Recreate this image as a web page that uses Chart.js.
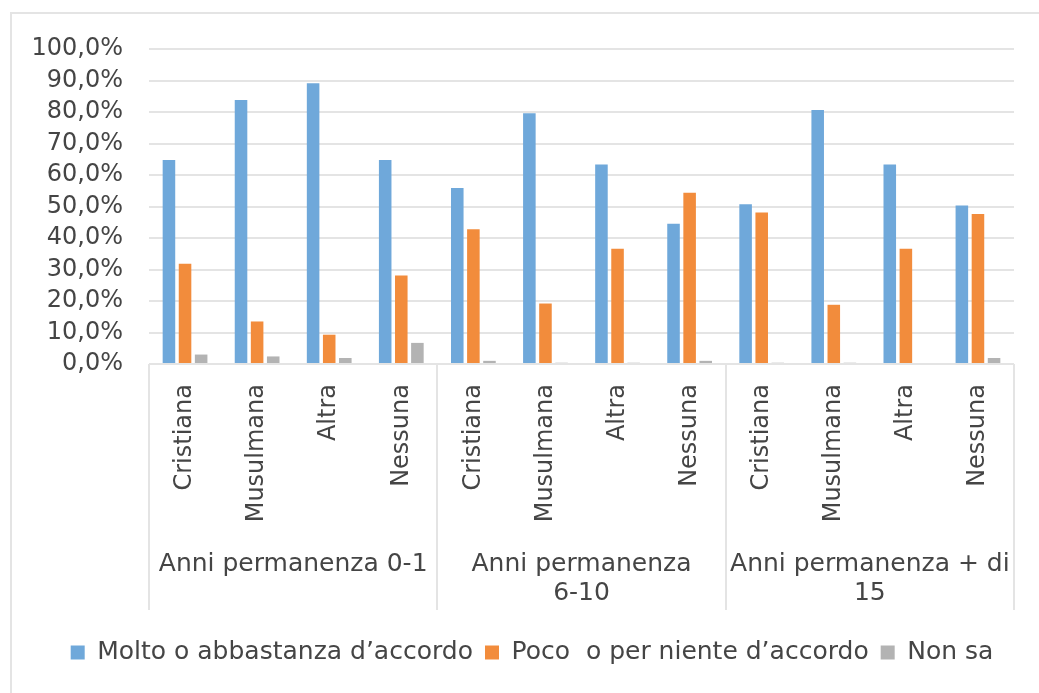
<!DOCTYPE html>
<html>
<head>
<meta charset="utf-8">
<script src="https://cdn.jsdelivr.net/npm/chart.js@4"></script>
<style>
  html, body { margin: 0; padding: 0; background: #ffffff; overflow: hidden; }
  #frame { position: absolute; left: 10px; top: 12px; width: 1100px; height: 800px; border: 2px solid #e4e4e4; box-sizing: border-box; }
  #c { position: absolute; left: 0; top: 0; }
</style>
</head>
<body>
<div id="frame"></div>
<canvas id="c" width="1039" height="693"></canvas>
<script>
const categories = ['Cristiana', 'Musulmana', 'Altra', 'Nessuna',
                    'Cristiana', 'Musulmana', 'Altra', 'Nessuna',
                    'Cristiana', 'Musulmana', 'Altra', 'Nessuna'];
const groups = ['Anni permanenza 0-1', ['Anni permanenza', '6-10'], ['Anni permanenza + di', '15']];
const seriesNames = ['Molto o abbastanza d\u2019accordo', 'Poco  o per niente d\u2019accordo', 'Non sa'];
const molto = [64.8, 83.8, 89.1, 64.8, 55.9, 79.6, 63.3, 44.5, 50.7, 80.6, 63.3, 50.3];
const poco  = [31.8, 13.5,  9.3, 28.1, 42.8, 19.2, 36.6, 54.4, 48.1, 18.8, 36.6, 47.6];
const nonSa = [ 3.0,  2.4,  1.9,  6.7,  1.0,  0.4,  0.4,  1.0,  0.4,  0.4,  0.0,  1.9];
const yTicks = [0, 10, 20, 30, 40, 50, 60, 70, 80, 90, 100];

const colors = ['#6fa8da', '#f28c3c', '#b3b3b3'];
const textColor = '#454545';
const gridColor = '#e4e4e4';

const separators = {
  id: 'separators',
  afterDraw(chart) {
    const x2 = chart.scales.x2;
    const top = chart.chartArea.bottom;
    const bottom = x2.top + 72;
    const ctx = chart.ctx;
    ctx.save();
    ctx.strokeStyle = gridColor;
    ctx.lineWidth = 2;
    const n = x2.getLabels().length;
    for (let i = 0; i <= n; i++) {
      const x = Math.round(x2.left + i * (x2.width / n));
      ctx.beginPath();
      ctx.moveTo(x, top);
      ctx.lineTo(x, bottom);
      ctx.stroke();
    }
    ctx.restore();
  }
};

new Chart(document.getElementById('c'), {
  type: 'bar',
  data: {
    labels: categories,
    datasets: [
      { label: seriesNames[0], data: molto, backgroundColor: colors[0], xAxisID: 'x', yAxisID: 'y' },
      { label: seriesNames[1], data: poco,  backgroundColor: colors[1], xAxisID: 'x', yAxisID: 'y' },
      { label: seriesNames[2], data: nonSa, backgroundColor: colors[2], xAxisID: 'x', yAxisID: 'y' }
    ]
  },
  options: {
    responsive: false,
    animation: false,
    devicePixelRatio: 1,
    categoryPercentage: 0.67,
    barPercentage: 0.78,
    layout: { padding: { top: 49, left: 25, right: 0, bottom: 18 } },
    plugins: {
      tooltip: { enabled: false },
      legend: {
        position: 'bottom',
        labels: {
          boxWidth: 14, boxHeight: 14, padding: 12,
          color: textColor,
          font: { family: 'DejaVu Sans', size: 25 }
        }
      }
    },
    scales: {
      y: {
        position: 'left',
        min: 0, max: 100,
        afterBuildTicks(s) { s.ticks = yTicks.map(v => ({ value: v })); },
        afterFit(s) { s.width = 124; },
        ticks: {
          color: textColor,
          autoSkip: false,
          font: { family: 'DejaVu Sans', size: 24 },
          padding: 26,
          callback: v => v.toFixed(1).replace('.', ',') + '%'
        },
        grid: { color: gridColor, lineWidth: 2, drawTicks: false },
        border: { display: false }
      },
      yRight: {
        position: 'right',
        display: true,
        afterFit(s) { s.width = 25; },
        ticks: { display: false },
        grid: { display: false, drawTicks: false },
        border: { display: false }
      },
      x: {
        type: 'category',
        afterFit(s) { s.height = 174; },
        grid: { display: false },
        border: { display: false },
        ticks: {
          color: textColor,
          autoSkip: false,
          minRotation: 90, maxRotation: 90,
          padding: 12,
          font: { family: 'DejaVu Sans', size: 24 }
        }
      },
      x2: {
        type: 'category',
        position: 'bottom',
        labels: groups,
        offset: true,
        afterFit(s) { s.height = 90; },
        grid: { display: false },
        border: { display: false },
        ticks: {
          color: textColor,
          autoSkip: false,
          maxRotation: 0, minRotation: 0,
          padding: 4,
          font: { family: 'DejaVu Sans', size: 25, lineHeight: 1.15 }
        }
      }
    }
  },
  plugins: [separators]
});
</script>
</body>
</html>
